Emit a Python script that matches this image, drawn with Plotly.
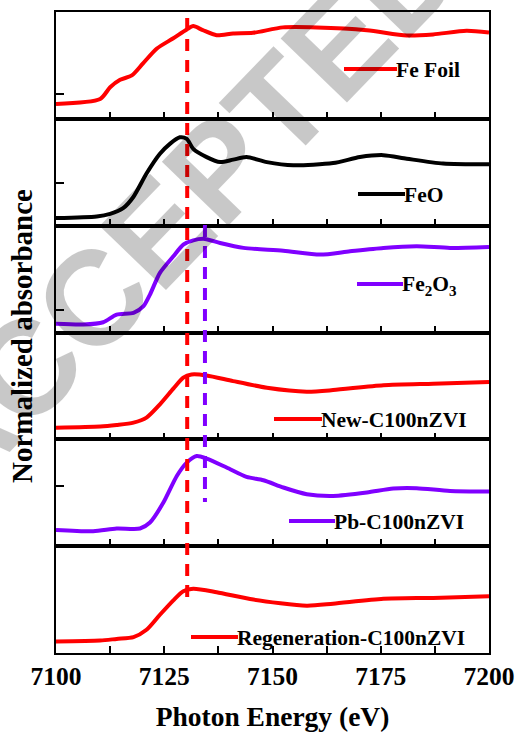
import plotly.graph_objects as go
from plotly.subplots import make_subplots

# ---------------- data ----------------
e_fefoil = [7100, 7110.2, 7112.5, 7114.8, 7117.5, 7120.1, 7123.3, 7127.0, 7130.2, 7131.7,
            7133.9, 7137.1, 7140.9, 7145.5, 7152.4, 7160.2, 7171.8, 7181.0, 7187.1, 7194.8, 7200]
a_fefoil = [0.139, 0.186, 0.295, 0.365, 0.406, 0.519, 0.658, 0.752, 0.837, 0.868,
            0.830, 0.783, 0.799, 0.805, 0.856, 0.856, 0.830, 0.780, 0.790, 0.824, 0.808]

e_feo = [7100, 7109.4, 7112.5, 7115.5, 7117.9, 7120.9, 7124.0, 7126.3, 7128.6, 7130.2, 7131.7,
         7134.8, 7137.9, 7140.9, 7144.0, 7148.7, 7154.8, 7164.0, 7170.2, 7175.6, 7181.0, 7189.4, 7200]
a_feo = [0.071, 0.086, 0.111, 0.164, 0.271, 0.488, 0.673, 0.766, 0.827, 0.812, 0.719,
         0.642, 0.595, 0.618, 0.642, 0.595, 0.565, 0.586, 0.642, 0.660, 0.627, 0.581, 0.574]

e_fe2o3 = [7100, 7106.3, 7110.9, 7114.0, 7117.9, 7120.2, 7121.7, 7124.0, 7127.1, 7129.4, 7131.7,
           7134.4, 7137.9, 7143.3, 7152.5, 7161.0, 7167.9, 7175.6, 7183.3, 7191.0, 7200]
a_fe2o3 = [0.081, 0.075, 0.096, 0.168, 0.184, 0.246, 0.355, 0.558, 0.713, 0.822, 0.863,
           0.876, 0.838, 0.792, 0.766, 0.729, 0.760, 0.792, 0.807, 0.792, 0.801]

e_new = [7100, 7110.2, 7114.0, 7117.9, 7120.9, 7124.0, 7127.1, 7129.4, 7131.3, 7134.8,
         7140.9, 7148.7, 7157.9, 7164.0, 7175.6, 7187.1, 7200]
a_new = [0.109, 0.119, 0.134, 0.156, 0.203, 0.327, 0.474, 0.577, 0.607, 0.598,
         0.545, 0.483, 0.446, 0.461, 0.507, 0.521, 0.536]

e_pb = [7100, 7108.6, 7114.0, 7119.4, 7121.7, 7124.8, 7127.9, 7130.2, 7132.5, 7134.8, 7139.4,
        7144.0, 7147.9, 7152.5, 7157.9, 7164.0, 7171.8, 7177.9, 7183.3, 7191.0, 7200]
a_pb = [0.152, 0.140, 0.165, 0.165, 0.221, 0.408, 0.657, 0.782, 0.844, 0.820, 0.736,
        0.648, 0.617, 0.549, 0.486, 0.470, 0.502, 0.539, 0.542, 0.517, 0.511]

e_regen = [7100, 7110.2, 7114.0, 7117.9, 7120.9, 7124.0, 7127.1, 7129.4, 7131.7, 7137.1,
           7145.6, 7157.9, 7164.0, 7175.6, 7187.1, 7200]
a_regen = [0.107, 0.116, 0.132, 0.148, 0.217, 0.358, 0.493, 0.578, 0.601, 0.569,
           0.500, 0.443, 0.462, 0.507, 0.516, 0.531]

sample_names = ["Fe Foil", "FeO", "Fe<sub>2</sub>O<sub>3</sub>", "New-C100nZVI",
                "Pb-C100nZVI", "Regeneration-C100nZVI"]
edge_fe0 = 7130.3   # red dashed reference line
edge_fe3 = 7134.4   # purple dashed reference line
x_tick_vals = [7100, 7125, 7150, 7175, 7200]
y_tick_vals = [[0.236, 1.0], [0.40], [0.21], [], [0.56], []]

RED = "#ff0000"
PURPLE = "#8000ff"
BLACK = "#000000"
series = [
    (e_fefoil, a_fefoil, RED),
    (e_feo, a_feo, BLACK),
    (e_fe2o3, a_fe2o3, PURPLE),
    (e_new, a_new, RED),
    (e_pb, a_pb, PURPLE),
    (e_regen, a_regen, RED),
]

# ---------------- figure ----------------
W, H = 518, 736
ML, MR, MT, MB = 56, 29, 12, 83
PW, PH = W - ML - MR, H - MT - MB
SERIF = "Liberation Serif, Times New Roman, serif"

fig = make_subplots(rows=6, cols=1, shared_xaxes=True, vertical_spacing=0)

for i, (ex, ay, col) in enumerate(series):
    fig.add_trace(go.Scatter(x=ex, y=ay, mode="lines",
                             line=dict(color=col, width=4, shape="spline", smoothing=0.7),
                             showlegend=False, hoverinfo="skip"), row=i + 1, col=1)


def px_x(px):
    return (px - ML) / PW


def px_y(py):
    return (H - MB - py) / PH


# watermark (drawn first so labels sit above it)
annotations = [dict(text="ACCEPTED", xref="paper", yref="paper", x=px_x(180), y=px_y(208),
                    showarrow=False, textangle=-46,
                    font=dict(family="Liberation Sans, Arial, sans-serif", size=134,
                              color="black", weight="bold"),
                    opacity=0.21, xanchor="center", yanchor="middle")]

# legend-like samples: (line x0, line x1, y) in pixels
legend_pos = [(344, 397, 69), (358, 405, 194), (357, 403, 284),
              (274, 322, 419), (289, 335, 521), (191, 238, 637)]
shapes = []
for (x0, x1, yy), (_, _, col), name in zip(legend_pos, series, sample_names):
    shapes.append(dict(type="line", xref="paper", yref="paper",
                       x0=px_x(x0), x1=px_x(x1), y0=px_y(yy), y1=px_y(yy),
                       line=dict(color=col, width=4)))
    annotations.append(dict(text=name, xref="paper", yref="paper",
                            x=px_x(x1 - 3), y=px_y(yy + 1), showarrow=False,
                            xanchor="left", yanchor="middle",
                            font=dict(family=SERIF, size=21.5, color="black", weight="bold")))

# dashed reference lines
shapes.append(dict(type="line", xref="x", yref="paper", x0=edge_fe0, x1=edge_fe0,
                   y0=px_y(18), y1=px_y(602), line=dict(color=RED, width=4, dash="12px,9px")))
shapes.append(dict(type="line", xref="x", yref="paper", x0=edge_fe3, x1=edge_fe3,
                   y0=px_y(225), y1=px_y(502), line=dict(color=PURPLE, width=4, dash="12px,9px")))

# y-axis title
annotations.append(dict(text="Normalized absorbance", xref="paper", yref="paper",
                        x=px_x(22), y=px_y(336), showarrow=False, textangle=-90,
                        xanchor="center", yanchor="middle",
                        font=dict(family=SERIF, size=29, color="black", weight="bold")))

for i in range(6):
    xa = "xaxis" if i == 0 else f"xaxis{i + 1}"
    ya = "yaxis" if i == 0 else f"yaxis{i + 1}"
    fig.layout[xa].update(range=[7100, 7200], tickvals=x_tick_vals, ticks="inside",
                          ticklen=7, tickwidth=1.5, tickcolor="black",
                          minor=dict(dtick=12.5, tick0=7100, ticks="inside", ticklen=7,
                                     tickwidth=1.5, tickcolor="black"),
                          showline=True, mirror=True, linecolor="black", linewidth=1.5,
                          showgrid=False, zeroline=False,
                          showticklabels=(i == 5),
                          tickfont=dict(family=SERIF, size=25.5, color="black", weight="bold"))
    fig.layout[ya].update(range=[0, 1], tickvals=y_tick_vals[i], ticks="inside",
                          ticklen=8, tickwidth=1.5, tickcolor="black",
                          showticklabels=False, showline=True, mirror=True,
                          linecolor="black", linewidth=1.5, showgrid=False, zeroline=False)

fig.layout["xaxis6"].update(title=dict(text="Photon Energy (eV)", standoff=16,
                                       font=dict(family=SERIF, size=27.5, color="black",
                                                 weight="bold")))

fig.update_layout(width=W, height=H, margin=dict(l=ML, r=MR, t=MT, b=MB, autoexpand=False),
                  paper_bgcolor="white", plot_bgcolor="rgba(0,0,0,0)",
                  shapes=shapes, annotations=annotations, showlegend=False)

fig.write_html("out.html")
